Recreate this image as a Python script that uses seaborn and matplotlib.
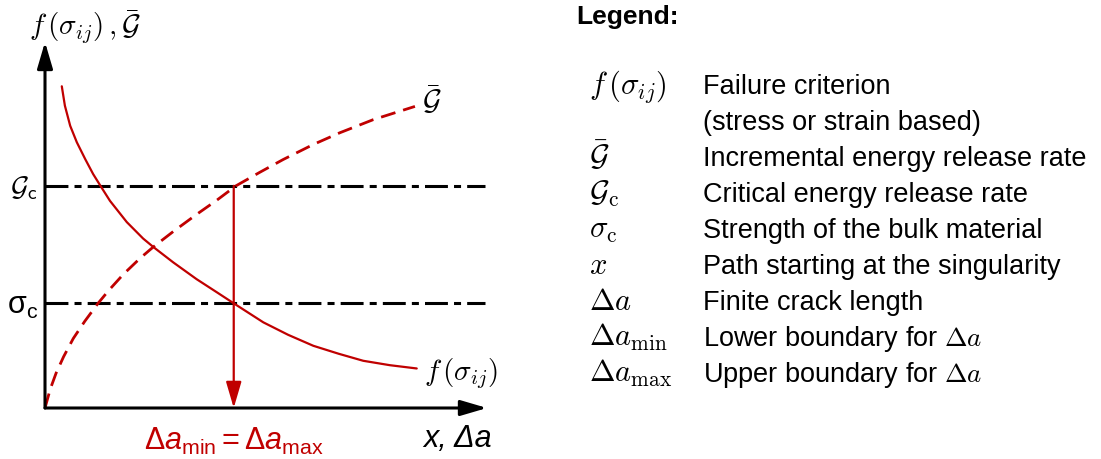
import numpy as np
import matplotlib
matplotlib.use("Agg")
import matplotlib.pyplot as plt
import seaborn as sns

# Schematic values (axis units 0..10)
f_x = [0.38, 0.45, 0.57, 0.72, 0.91, 1.09, 1.26, 1.47, 1.85, 2.22, 2.45, 2.90, 3.43,
       3.89, 4.27, 4.94, 5.50, 6.07, 6.65, 7.20, 7.80, 8.41]
f_y = [8.79, 8.26, 7.71, 7.26, 6.80, 6.39, 6.06, 5.66, 5.08, 4.63, 4.40, 3.98, 3.52,
       3.16, 2.86, 2.34, 2.00, 1.70, 1.48, 1.29, 1.17, 1.08]

g_x = [0.00, 0.12, 0.25, 0.42, 0.64, 0.90, 1.20, 1.44, 1.77, 2.15, 2.45, 2.90, 3.43,
       3.89, 4.32, 4.86, 5.39, 6.07, 6.67, 7.43, 8.37]
g_y = [0.00, 0.52, 0.95, 1.40, 1.90, 2.37, 2.86, 3.21, 3.65, 4.09, 4.40, 4.82, 5.29,
       5.68, 6.07, 6.44, 6.79, 7.20, 7.52, 7.88, 8.24]

G_c = 6.07        # critical energy release rate level
sigma_c = 2.86    # strength level
da_crit = 4.27    # where both conditions are met

legend_symbols = [r'$f\,(\sigma_{ij})$', '', r'$\bar{\mathcal{G}}$', r'$\mathcal{G}_\mathrm{c}$',
                  r'$\sigma_\mathrm{c}$', r'$x$', r'$\Delta a$', r'$\Delta a_\mathrm{min}$',
                  r'$\Delta a_\mathrm{max}$']
legend_texts = ['Failure criterion', '(stress or strain based)', 'Incremental energy release rate',
                'Critical energy release rate', 'Strength of the bulk material',
                'Path starting at the singularity', 'Finite crack length',
                r'Lower boundary for $\Delta a$', r'Upper boundary for $\Delta a$']

RED = '#C00000'
W, H = 1101, 460

sns.set_theme(style='white')
plt.rcParams['font.family'] = ['Liberation Sans', 'DejaVu Sans']
plt.rcParams['text.color'] = 'black'
plt.rcParams['mathtext.fontset'] = 'custom'
plt.rcParams['mathtext.rm'] = 'Liberation Sans'
plt.rcParams['mathtext.it'] = 'Liberation Sans:italic'
plt.rcParams['mathtext.sf'] = 'Liberation Sans'


def px(x, y):
    """pixel position -> figure fraction"""
    return x / W, 1 - y / H


fig = plt.figure(figsize=(W / 100, H / 100), dpi=100)
# plot area: origin at pixel (45, 409), axis tips at x=487 / y=43
ax = fig.add_axes([45 / W, (H - 409) / H, 442 / W, 366 / H])
ax.set_xlim(0, 10)
ax.set_ylim(0, 10)
ax.axis('off')

# dash-dot reference levels
ax.hlines([G_c, sigma_c], 0, 9.95, colors='black', lw=2.2,
          linestyles=[(0, (7.5, 2.0, 2.3, 2.0))])

# curves
sns.lineplot(x=f_x, y=f_y, ax=ax, color=RED, lw=1.6, sort=False, estimator=None)
sns.lineplot(x=g_x, y=g_y, ax=ax, color=RED, lw=2.0, sort=False, estimator=None,
             linestyle=(0, (5.4, 2.9)))

# coordinate axes as arrows
for tip in [(10, 0), (0, 10)]:
    ax.annotate('', xy=tip, xytext=(0, 0), annotation_clip=False,
                arrowprops=dict(arrowstyle='-|>,head_length=1.6,head_width=0.47',
                                mutation_scale=10, lw=2.2, color='black',
                                shrinkA=0, shrinkB=0))

# result arrow
ax.annotate('', xy=(da_crit, 0), xytext=(da_crit, G_c), annotation_clip=False,
            arrowprops=dict(arrowstyle='-|>,head_length=1.6,head_width=0.47',
                            mutation_scale=10, lw=1.6, color=RED,
                            shrinkA=0, shrinkB=0))

# labels in the plot
fig.text(*px(29, 27), r'$f\,(\sigma_{ij})\,,\bar{\mathcal{G}}$', fontsize=21,
         math_fontfamily='cm', ha='left', va='center')
fig.text(*px(38, 188), r'$\mathcal{G}_\mathsf{c}$', fontsize=20,
         math_fontfamily='cm', ha='right', va='center')
fig.text(*px(38, 306), r'$\mathrm{\sigma}_\mathrm{c}$', fontsize=22,
         ha='right', va='center')
fig.text(*px(422, 100), r'$\bar{\mathcal{G}}$', fontsize=21,
         math_fontfamily='cm', ha='left', va='center')
fig.text(*px(424, 374), r'$f\,(\sigma_{ij})$', fontsize=21,
         math_fontfamily='cm', ha='left', va='center')
fig.text(*px(234, 441), r'$\mathit{\Delta a}_\mathrm{min} = \mathit{\Delta a}_\mathrm{max}$',
         fontsize=22, color=RED, ha='center', va='center')
fig.text(*px(423, 439), 'x, Δa', fontsize=22, style='italic', ha='left', va='center')

# legend panel
fig.text(*px(576, 24), 'Legend:', fontsize=19, weight='bold', ha='left', va='baseline')
for i, (sym, txt) in enumerate(zip(legend_symbols, legend_texts)):
    yb = 94 + 36 * i
    if sym:
        fig.text(*px(589, yb), sym, fontsize=22, math_fontfamily='cm',
                 ha='left', va='baseline')
    fig.text(*px(703, yb), txt, fontsize=19.5, math_fontfamily='cm',
             ha='left', va='baseline')

fig.savefig('out.png', dpi=100)
